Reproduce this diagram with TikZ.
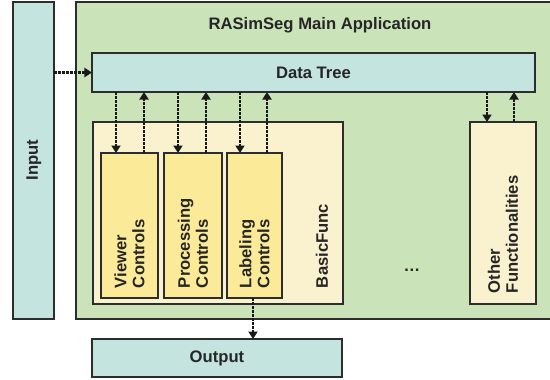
\documentclass[tikz,border=0pt]{standalone}
\usepackage{fontspec}
\setmainfont{Liberation Sans}
\usetikzlibrary{arrows.meta}
\definecolor{cyanbox}{RGB}{196,228,224}
\definecolor{greenbg}{RGB}{203,227,184}
\definecolor{creambox}{RGB}{250,241,207}
\definecolor{yellowbox}{RGB}{251,235,152}
\definecolor{edge}{RGB}{45,45,45}
\begin{document}
\begin{tikzpicture}[x=1bp,y=-1bp,
  box/.style={draw=edge,line width=1.4bp,inner sep=0pt,outer sep=0pt,rectangle},
  txt/.style={font=\fontsize{16.7}{18}\selectfont\bfseries,text=black!85,inner sep=0pt,outer sep=0pt},
  vtxt/.style={txt,rotate=90,anchor=west,align=left},
  arr/.style={line width=2.9bp,draw=black!90,dash pattern=on 2.8bp off 1.2bp,
    -{Triangle[length=7.5bp,width=9bp]}}]
\useasboundingbox (0,0) rectangle (550,379);
% containers
\node[box,fill=cyanbox,minimum width=41bp,minimum height=317bp] (input) at (33.5,160.5) {};
\node[txt,rotate=90] (inputtxt) at (34,160) {Input};
\node[box,fill=greenbg,minimum width=475bp,minimum height=317bp] (main) at (313.5,160.5) {};
\node[txt] (title) at (320,25) {RASimSeg Main Application};
\node[box,fill=cyanbox,minimum width=443bp,minimum height=39bp,txt] (dt) at (313.5,72.5) {Data Tree};
\node[box,fill=creambox,minimum width=250bp,minimum height=182bp] (basic) at (218,213) {};
\node[vtxt] (basictxt) at (322,288) {BasicFunc};
\node[box,fill=yellowbox,minimum width=57bp,minimum height=145bp] (viewer) at (129.5,225.5) {};
\node[box,fill=yellowbox,minimum width=58bp,minimum height=145bp] (proc) at (193,225.5) {};
\node[box,fill=yellowbox,minimum width=55bp,minimum height=145bp] (label) at (254.5,225.5) {};
\node[vtxt] (viewertxt) at (129.5,288) {Viewer\\Controls};
\node[vtxt] (proctxt) at (193,288) {Processing\\Controls};
\node[vtxt] (labeltxt) at (254.5,288) {Labeling\\Controls};
\node[box,fill=creambox,minimum width=66bp,minimum height=182bp] (other) at (503,213) {};
\node[vtxt] (othertxt) at (503,293) {Other\\Functionalities};
\node[txt] (dots) at (412,270) {…};
\node[box,fill=cyanbox,minimum width=250bp,minimum height=38bp,txt] (out) at (217,358) {Output};
% connectors
\draw[arr] (input.east |- dt.west) -- (dt.west);
\draw[arr] ([xshift=-13.5bp]viewer.north |- dt.south) -- ([xshift=-13.5bp]viewer.north);
\draw[arr] ([xshift=14.5bp]viewer.north) -- ([xshift=14.5bp]viewer.north |- dt.south);
\draw[arr] ([xshift=-15bp]proc.north |- dt.south) -- ([xshift=-15bp]proc.north);
\draw[arr] ([xshift=13bp]proc.north) -- ([xshift=13bp]proc.north |- dt.south);
\draw[arr] ([xshift=-14.5bp]label.north |- dt.south) -- ([xshift=-14.5bp]label.north);
\draw[arr] ([xshift=12.5bp]label.north) -- ([xshift=12.5bp]label.north |- dt.south);
\draw[arr] ([xshift=-16bp]other.north |- dt.south) -- ([xshift=-16bp]other.north);
\draw[arr] ([xshift=11bp]other.north) -- ([xshift=11bp]other.north |- dt.south);
\draw[arr] ([xshift=-1.5bp]label.south) -- ([xshift=-1.5bp]label.south |- out.north);
\end{tikzpicture}
\end{document}
